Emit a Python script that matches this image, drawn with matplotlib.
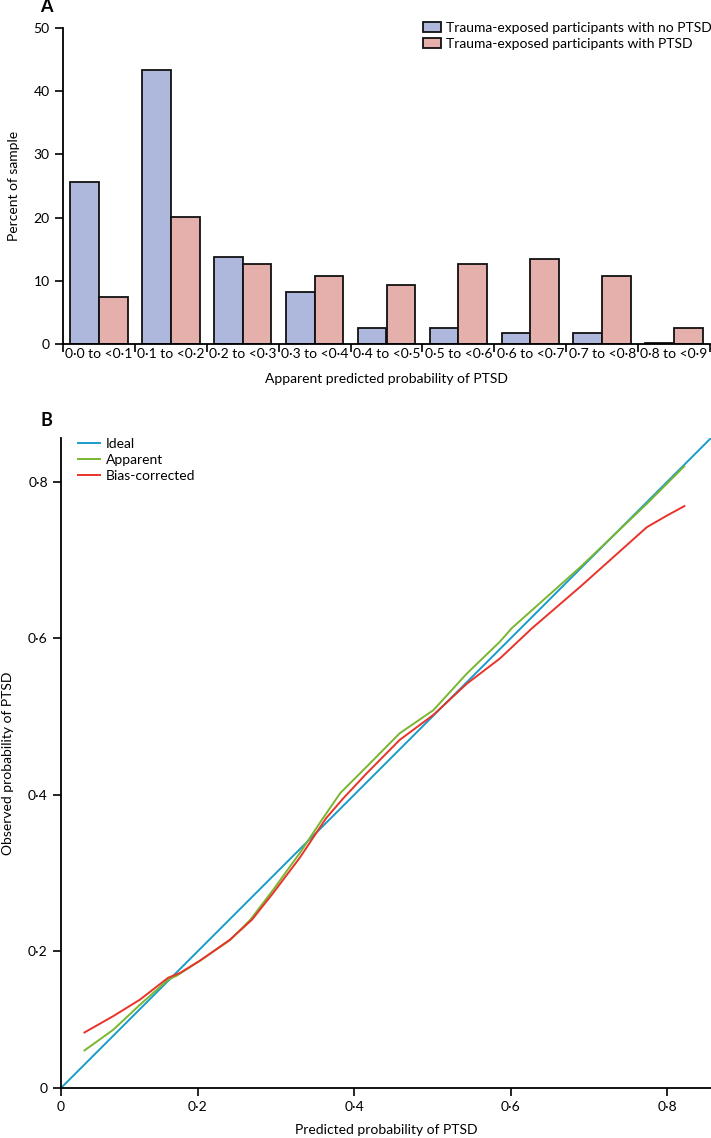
import matplotlib
matplotlib.use("Agg")
import matplotlib.pyplot as plt
import numpy as np

plt.rcParams['font.family'] = ['Lato', 'DejaVu Sans']

# panel A data
bins = ['0·0 to <0·1', '0·1 to <0·2', '0·2 to <0·3', '0·3 to <0·4', '0·4 to <0·5',
        '0·5 to <0·6', '0·6 to <0·7', '0·7 to <0·8', '0·8 to <0·9']
no_ptsd = [25.7, 43.3, 13.8, 8.3, 2.6, 2.6, 1.8, 1.8, 0.2]
ptsd = [7.4, 20.1, 12.7, 10.7, 9.3, 12.7, 13.4, 10.7, 2.6]

# panel B data (calibration curves)
ideal_x = [0.025, 0.856]
ideal_y = [0.025, 0.856]
app_x = [0.055, 0.092, 0.126, 0.162, 0.173, 0.203, 0.241, 0.267, 0.296, 0.330, 0.360,
         0.382, 0.416, 0.458, 0.501, 0.544, 0.586, 0.601, 0.689, 0.774, 0.822]
app_y = [0.073, 0.0996, 0.1315, 0.1635, 0.1686, 0.188, 0.214, 0.240, 0.278, 0.325, 0.370,
         0.402, 0.436, 0.4785, 0.508, 0.555, 0.5955, 0.6126, 0.691, 0.772, 0.820]
bc_x = [0.055, 0.092, 0.126, 0.162, 0.177, 0.203, 0.241, 0.269, 0.296, 0.330, 0.364,
        0.386, 0.416, 0.458, 0.501, 0.544, 0.586, 0.627, 0.689, 0.774, 0.800, 0.822]
bc_y = [0.096, 0.117, 0.138, 0.166, 0.172, 0.188, 0.2146, 0.240, 0.274, 0.319, 0.370,
        0.3955, 0.4275, 0.470, 0.502, 0.542, 0.574, 0.6126, 0.666, 0.742, 0.757, 0.769]
b_ticks = [0.025, 0.2, 0.4, 0.6, 0.8]
b_ticklabels = ['0', '0·2', '0·4', '0·6', '0·8']

FS = 10
W, H = 711, 1138
fig = plt.figure(figsize=(W / 100, H / 100), dpi=100)

# ---------- A ----------
axA = fig.add_axes([63 / W, 1 - 344 / H, (710 - 63) / W, (344 - 28) / H])
x = np.arange(len(bins))
axA.bar(x - 0.2, no_ptsd, 0.4, color='#aeb7dc', edgecolor='#111111', linewidth=1.3,
        label='Trauma-exposed participants with no PTSD')
axA.bar(x + 0.2, ptsd, 0.4, color='#e5afac', edgecolor='#111111', linewidth=1.3,
        label='Trauma-exposed participants with PTSD')
axA.set_xlim(-0.5, len(bins) - 0.5)
axA.set_ylim(0, 50)
axA.set_yticks([0, 10, 20, 30, 40, 50])
axA.set_xticks(np.arange(len(bins) + 1) - 0.5)
axA.set_xticklabels([])
axA.set_xticks(x, minor=True)
axA.set_xticklabels(bins, minor=True)
axA.tick_params(axis='x', which='major', length=6, width=1.2, direction='out')
axA.tick_params(axis='x', which='minor', length=0, pad=3, labelsize=FS)
axA.tick_params(axis='y', length=6, width=1.2, labelsize=FS)
for s in ['top', 'right']:
    axA.spines[s].set_visible(False)
for s in ['left', 'bottom']:
    axA.spines[s].set_linewidth(1.3)
axA.set_ylabel('Percent of sample', fontsize=FS, labelpad=10)
axA.set_xlabel('Apparent predicted probability of PTSD', fontsize=FS, labelpad=9)
axA.legend(loc='upper left', bbox_to_anchor=(0.557, 1.02), frameon=False, fontsize=FS,
           borderpad=0, borderaxespad=0, handlelength=1.25, handleheight=0.75,
           handletextpad=0.4, labelspacing=0.3)
fig.text(46 / W, 1 - 7 / H, 'A', fontsize=13, fontweight='bold', ha='center', va='center')

# ---------- B ----------
axB = fig.add_axes([61 / W, 1 - 1088 / H, (711 - 61) / W, (1088 - 438) / H])
axB.plot(ideal_x, ideal_y, color='#1a9bc9', lw=1.4, label='Ideal')
axB.plot(app_x, app_y, color='#7ab530', lw=1.4, label='Apparent')
axB.plot(bc_x, bc_y, color='#e8332a', lw=1.4, label='Bias-corrected')
axB.set_xlim(0.025, 0.856)
axB.set_ylim(0.0255, 0.856)
axB.set_xticks(b_ticks)
axB.set_xticklabels(b_ticklabels)
axB.set_yticks(b_ticks)
axB.set_yticklabels(b_ticklabels)
axB.tick_params(length=6, width=1.2, labelsize=FS)
for s in ['top', 'right']:
    axB.spines[s].set_visible(False)
for s in ['left', 'bottom']:
    axB.spines[s].set_linewidth(1.3)
axB.set_xlabel('Predicted probability of PTSD', fontsize=FS, labelpad=8)
axB.set_ylabel('Observed probability of PTSD', fontsize=FS, labelpad=10)
axB.legend(loc='upper left', bbox_to_anchor=(0.026, 1.0), frameon=False, fontsize=FS,
           borderpad=0, borderaxespad=0, handlelength=1.6, handletextpad=0.4,
           labelspacing=0.3)
fig.text(46 / W, 1 - 420 / H, 'B', fontsize=13, fontweight='bold', ha='center', va='center')

fig.savefig('out.png', dpi=100)
